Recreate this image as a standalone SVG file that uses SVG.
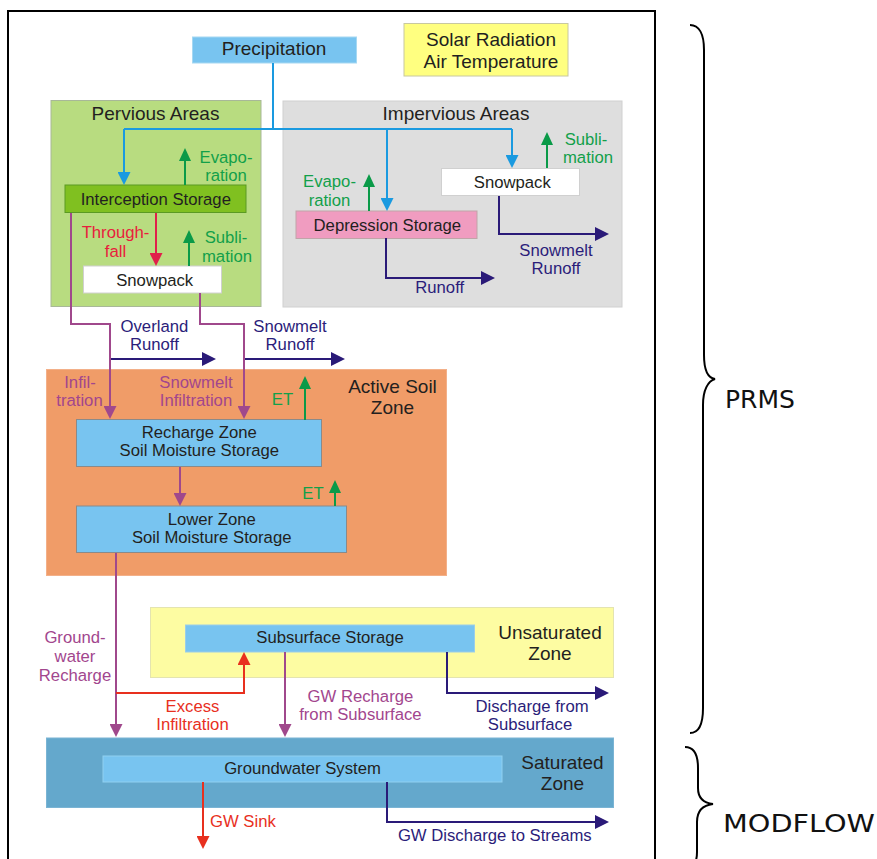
<svg xmlns="http://www.w3.org/2000/svg" width="877" height="859" viewBox="0 0 877 859">
<defs>
<style>
text{font-family:"Liberation Sans",Arial,sans-serif;font-size:16.7px;fill:#231f20;text-anchor:middle}
.t{font-size:19px}
.g{fill:#12a04a}.r{fill:#e8203c}.rr{fill:#e8301e}.p{fill:#a2468e}.n{fill:#2b1d7a}
.big{font-family:"DejaVu Sans",Verdana,sans-serif;font-size:25px;text-anchor:start;fill:#111}
.c{fill:none;stroke-width:2}
.cb{stroke:#1a9ae0;marker-end:url(#mb)}
.cg{stroke:#0a9a48;marker-end:url(#mg)}
.cr{stroke:#e0204a;marker-end:url(#mr)}
.cx{stroke:#e8301e;marker-end:url(#mx)}
.cpa{stroke:#a0488c;marker-end:url(#mp)}
.cn{stroke:#2a1a78;marker-end:url(#mn)}
.box{fill:#78c4f0;stroke:#8a8a8a;stroke-width:1}
</style>
<marker id="mb" viewBox="0 0 13 13" markerWidth="13" markerHeight="13" markerUnits="userSpaceOnUse" refX="10" refY="6.5" orient="auto"><path d="M0,0L13,6.5L0,13z" fill="#1a9ae0"/></marker>
<marker id="mg" viewBox="0 0 13 12" markerWidth="13" markerHeight="12" markerUnits="userSpaceOnUse" refX="10" refY="6" orient="auto"><path d="M0,0L13,6L0,12z" fill="#0a9a48"/></marker>
<marker id="mr" viewBox="0 0 13 13" markerWidth="13" markerHeight="13" markerUnits="userSpaceOnUse" refX="10" refY="6.5" orient="auto"><path d="M0,0L13,6.5L0,13z" fill="#e0204a"/></marker>
<marker id="mx" viewBox="0 0 13 13" markerWidth="13" markerHeight="13" markerUnits="userSpaceOnUse" refX="10" refY="6.5" orient="auto"><path d="M0,0L13,6.5L0,13z" fill="#e8301e"/></marker>
<marker id="mp" viewBox="0 0 13 13" markerWidth="13" markerHeight="13" markerUnits="userSpaceOnUse" refX="10" refY="6.5" orient="auto"><path d="M0,0L13,6.5L0,13z" fill="#a0488c"/></marker>
<marker id="mn" viewBox="0 0 14 14" markerWidth="14" markerHeight="14" markerUnits="userSpaceOnUse" refX="11" refY="7" orient="auto"><path d="M0,0L14,7L0,14z" fill="#2a1a78"/></marker>
</defs>
<rect width="877" height="859" fill="#fff"/>
<rect id="frame" x="8" y="11" width="647" height="870" fill="none" stroke="#000" stroke-width="2"/>

<g id="zones">
<rect id="pervious" x="51" y="100.5" width="210" height="206" fill="#b8dc80" stroke="#a8b898" stroke-width="1"/>
<text class="t" x="155.5" y="120">Pervious Areas</text>
<rect id="impervious" x="283" y="101" width="339" height="206" fill="#dedede" stroke="#d0d0d0" stroke-width="1"/>
<text class="t" x="456" y="119.5">Impervious Areas</text>
<rect id="activesoil" x="46.5" y="369.5" width="400" height="206" fill="#f09c68" stroke="#f3b089" stroke-width="1"/>
<text class="t" x="392.5" y="393">Active Soil</text>
<text class="t" x="392.5" y="413.5">Zone</text>
<rect id="unsaturated" x="150.5" y="607.5" width="463" height="70" fill="#fdfca2" stroke="#e4e4b0" stroke-width="1"/>
<text class="t" x="550" y="639">Unsaturated</text>
<text class="t" x="550" y="659.5">Zone</text>
<rect id="saturated" x="46.5" y="738" width="567" height="69.5" fill="#64a8cc" stroke="#7ab4d4" stroke-width="1"/>
<text class="t" x="562.5" y="769">Saturated</text>
<text class="t" x="562.5" y="789.5">Zone</text>
</g>

<g id="precipitation">
<rect x="192.5" y="37" width="164" height="26" fill="#78c4f0" stroke="#a6d8f2" stroke-width="1"/>
<text class="t" x="274" y="55">Precipitation</text>
</g>
<g id="solar">
<rect x="404" y="23.5" width="164" height="52.5" fill="#ffff80" stroke="#c8c8a0" stroke-width="1"/>
<text class="t" x="491" y="46">Solar Radiation</text>
<text class="t" x="491" y="68.3">Air Temperature</text>
</g>
<g id="interception">
<rect x="65" y="185" width="181" height="27.5" fill="#80c020" stroke="#5a9a22" stroke-width="1"/>
<text x="155.8" y="205">Interception Storage</text>
</g>
<g id="snowpack-pervious">
<rect x="83.5" y="266" width="138" height="27" fill="#fff" stroke="#d0d0d0" stroke-width="1"/>
<text x="154.7" y="286">Snowpack</text>
</g>
<g id="depression">
<rect x="296" y="211" width="181" height="27.5" fill="#f09cc0" stroke="#c0a4a8" stroke-width="1"/>
<text x="387.3" y="230.7">Depression Storage</text>
</g>
<g id="snowpack-impervious">
<rect x="441.5" y="168.5" width="138" height="27" fill="#fff" stroke="#d0d0d0" stroke-width="1"/>
<text x="512.3" y="188">Snowpack</text>
</g>
<g id="recharge">
<rect class="box" x="76.5" y="419.5" width="245" height="47"/>
<text x="199.3" y="437.7">Recharge Zone</text>
<text x="199.3" y="456">Soil Moisture Storage</text>
</g>
<g id="lower">
<rect class="box" x="76.5" y="506" width="270" height="46.5"/>
<text x="211.7" y="525">Lower Zone</text>
<text x="211.7" y="543.3">Soil Moisture Storage</text>
</g>
<g id="subsurface">
<rect x="185.5" y="625" width="289" height="27" fill="#78c4f0" stroke="#9ccde8" stroke-width="1"/>
<text x="330" y="643.3">Subsurface Storage</text>
</g>
<g id="groundwater">
<rect x="103" y="756" width="399" height="26" fill="#78c4f0" stroke="#90d0f0" stroke-width="1"/>
<text x="302.5" y="774.3">Groundwater System</text>
</g>

<g id="connectors">
<path class="c" stroke="#1a9ae0" d="M273,63V129M124,129H512"/>
<path class="c cb" d="M124,129V182"/>
<path class="c cb" d="M387,129V208"/>
<path class="c cb" d="M512,129V165"/>
<path class="c cg" d="M185,185V151"/>
<path class="c cg" d="M189,266V233"/>
<path class="c cg" d="M369,211V177"/>
<path class="c cg" d="M547,168V135"/>
<path class="c cg" d="M305,420V379"/>
<path class="c cg" d="M335,506V483"/>
<path class="c cr" d="M156,213V263"/>
<path class="c cn" d="M499,196V234H606"/>
<path class="c cn" d="M386,238V278H492"/>
<path class="c cn" d="M110,359H213"/>
<path class="c cn" d="M244,359H342"/>
<path class="c cn" d="M447,652V693H606"/>
<path class="c cn" d="M387,782V822H606"/>
<path class="c cpa" d="M71,213V324H110V416"/>
<path class="c cpa" d="M200,293V324H244V416"/>
<path class="c cpa" d="M180,467V503"/>
<path class="c cpa" d="M116,553V734"/>
<path class="c cpa" d="M285,652V734"/>
<path class="c cx" d="M116,693H244V655"/>
<path class="c cx" d="M203,782V846"/>
</g>

<g id="labels">
<text class="g" x="226" y="162.7">Evapo-</text>
<text class="g" x="226" y="180.5">ration</text>
<text class="r" x="115.5" y="238">Through-</text>
<text class="r" x="115.5" y="257">fall</text>
<text class="g" x="226" y="243">Subli-</text>
<text class="g" x="227" y="261.5">mation</text>
<text class="g" x="329.5" y="187">Evapo-</text>
<text class="g" x="329.5" y="205.5">ration</text>
<text class="g" x="586" y="144.5">Subli-</text>
<text class="g" x="588" y="163">mation</text>
<text class="n" x="556" y="255.5">Snowmelt</text>
<text class="n" x="556" y="274">Runoff</text>
<text class="n" x="439.7" y="293">Runoff</text>
<text class="n" x="154.4" y="331.5">Overland</text>
<text class="n" x="154.4" y="350">Runoff</text>
<text class="n" x="290" y="331.5">Snowmelt</text>
<text class="n" x="290" y="350">Runoff</text>
<text class="p" x="80" y="387.5">Infil-</text>
<text class="p" x="79.5" y="406">tration</text>
<text class="p" x="196" y="387.5">Snowmelt</text>
<text class="p" x="196" y="406">Infiltration</text>
<text class="g" x="282.5" y="405">ET</text>
<text class="g" x="313" y="499">ET</text>
<text class="p" x="75" y="643">Ground-</text>
<text class="p" x="75" y="662">water</text>
<text class="p" x="75" y="681">Recharge</text>
<text class="rr" x="192.5" y="711.5">Excess</text>
<text class="rr" x="192.5" y="730">Infiltration</text>
<text class="p" x="360.4" y="701.5">GW Recharge</text>
<text class="p" x="360.4" y="720">from Subsurface</text>
<text class="n" x="532" y="711.5">Discharge from</text>
<text class="n" x="530" y="730">Subsurface</text>
<text class="rr" x="210" y="827.3" style="text-anchor:start">GW Sink</text>
<text class="n" x="494.8" y="840.7">GW Discharge to Streams</text>
</g>

<g id="braces">
<path fill="none" stroke="#000" stroke-width="2" d="M690,25C699,25 704,34 704,50L704,355C704,370 708,378 715,379C708,381 703,390 703,405L703,708C703,724 699,733 690,733"/>
<path fill="none" stroke="#000" stroke-width="2" d="M685,747C694,747 698,754 698,768L698,788C698,799 704,803 713,804C704,805 697,810 697,822L697,852C697,862 694,866 690,868"/>
<text class="big" x="725" y="407.7">PRMS</text>
<text class="big" x="723" y="832" textLength="152" lengthAdjust="spacingAndGlyphs">MODFLOW</text>
</g>
</svg>
